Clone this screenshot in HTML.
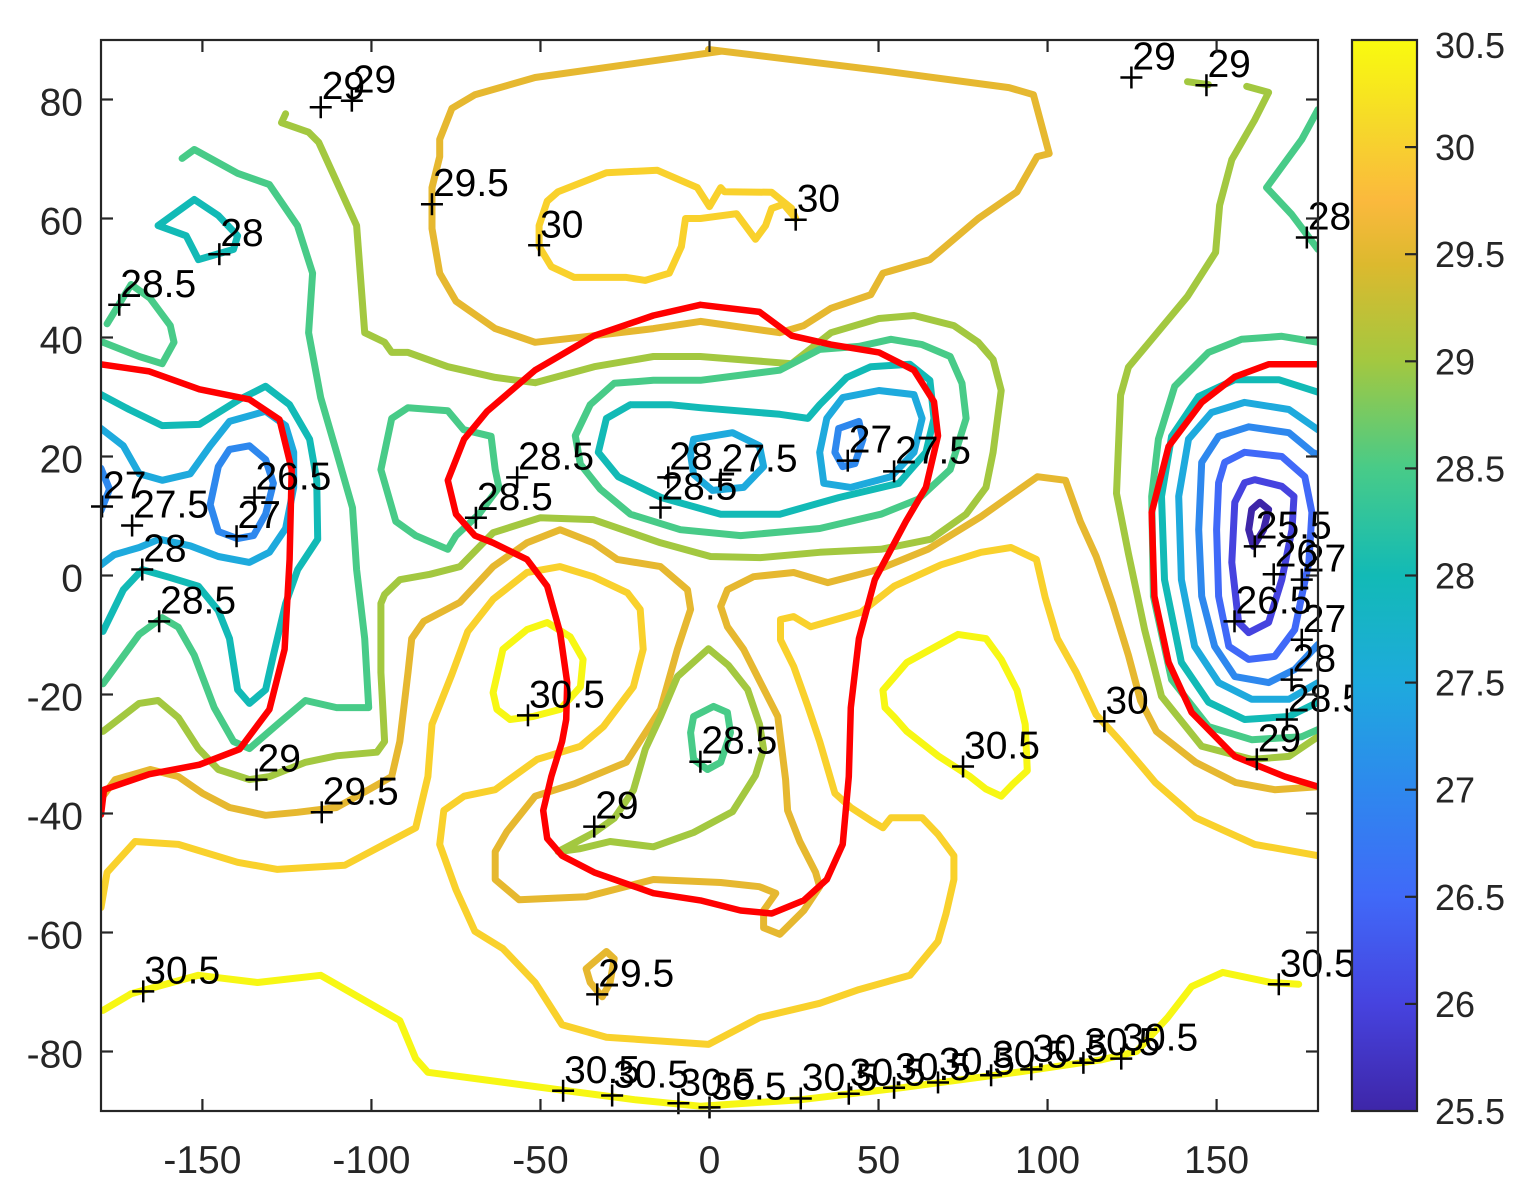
<!DOCTYPE html>
<html><head><meta charset="utf-8"><title>Contour map</title>
<style>
html,body{margin:0;padding:0;background:#fff;}
svg{display:block;font-family:"Liberation Sans",Arial,sans-serif;}
</style></head>
<body>
<svg id="chart" xmlns="http://www.w3.org/2000/svg" width="1521" height="1193" viewBox="0 0 1521 1193">
<defs>
<clipPath id="plotclip"><rect x="101" y="40" width="1217" height="1071"/></clipPath>
<linearGradient id="parula" x1="0" y1="1" x2="0" y2="0">
<stop offset="0" stop-color="#3e26a8"/><stop offset="0.1" stop-color="#4643df"/>
<stop offset="0.2" stop-color="#4069f8"/><stop offset="0.3" stop-color="#2e88ee"/>
<stop offset="0.4" stop-color="#1eaadd"/><stop offset="0.5" stop-color="#12bab6"/>
<stop offset="0.6" stop-color="#48cb88"/><stop offset="0.7" stop-color="#a3c840"/>
<stop offset="0.79" stop-color="#dcb92e"/><stop offset="0.85" stop-color="#fbb93d"/>
<stop offset="0.92" stop-color="#f6d82a"/><stop offset="1" stop-color="#f9fb0e"/>
</linearGradient>
</defs>
<rect x="0" y="0" width="1521" height="1193" fill="#fff"/>
<g id="contours" clip-path="url(#plotclip)"></g>
<g id="redline" clip-path="url(#plotclip)"></g>
<g id="labels"></g>
<g id="axes"></g>
<g id="cbar"></g>
</svg>
<script>
// ---- data ----
const xTicks = [-150,-100,-50,0,50,100,150];
const yTicks = [-80,-60,-40,-20,0,20,40,60,80];
const cbarTicks = [25.5,26,26.5,27,27.5,28,28.5,29,29.5,30,30.5];
const levelValues = [25.5,26,26.5,27,27.5,28,28.5,29,29.5,30,30.5];
const levelColors = ["#3e26a8","#4643df","#4069f8","#2e88ee","#1eaadd","#12bab6","#48cb88","#a3c840","#e6b830","#f9d12c","#f7f714"];

const c295Top = [[3.3,88.1],[-51.6,83.7],[-69.4,80.8],[-76.2,78.5],[-79.8,73.3],[-79.8,70.4],[-82.1,65.2],[-82.1,58.3],[-79.8,50.8],[-75.0,46.1],[-63.4,41.5],[-51.6,39.2],[-34.1,40.3],[-16.6,41.5],[-2.7,42.7],[20.8,40.8],[27.9,42.0],[35.9,44.9],[47.7,47.2],[51.3,50.8],[65.2,53.1],[79.5,60.0],[91.0,64.5],[96.9,70.4],[100.5,70.9],[95.8,80.8],[88.6,82.0],[50.1,84.9],[-0.3,88.4],[3.3,88.1]];
const c30Top = [[-48.0,62.9],[-44.8,64.5],[-30.5,67.7],[-15.4,68.1],[-3.6,65.2],[0,62.0],[3.3,65.2],[4.4,64.5],[18.4,64.4],[24.3,61.7],[25.5,60.0],[21.9,62.4],[18.4,61.7],[16.6,58.8],[13.6,56.5],[8.0,60.8],[-2.7,60.0],[-7.1,60.0],[-8.3,55.3],[-11.9,50.8],[-19.0,49.6],[-24.6,50.1],[-40.0,50.1],[-46.8,51.9],[-50.4,55.3],[-50.4,58.8],[-48.0,62.9]];
const c29Main = [[-125.4,77.6],[-126.6,76.1],[-118.6,74.5],[-115.6,72.8],[-104.4,58.8],[-102.0,40.8],[-96.1,39.2],[-94.0,37.5],[-89.2,37.5],[-77.4,35.1],[-63.4,33.3],[-51.6,32.4],[-34.1,35.1],[-16.6,36.8],[-2.7,36.8],[24.3,35.6],[35.9,40.8],[50.1,43.2],[60.5,43.7],[72.3,42.0],[79.5,39.2],[83.9,36.3],[86.3,31.1],[83.9,20.7],[81.8,14.8],[75.9,10.3],[65.5,6.1],[50.7,4.4],[32.6,3.9],[15.1,3.0],[0.3,3.2],[-14.5,5.5],[-34.4,9.4],[-50.1,9.7],[-64.0,7.2],[-73.8,1.5],[-82.7,0.2],[-91.6,-0.7],[-96.1,-3.2],[-97.2,-4.7],[-97.2,-16.3],[-96.1,-27.9],[-98.4,-29.7],[-110.3,-30.3],[-119.5,-31.4],[-130.2,-33.8],[-136.1,-34.3],[-145.3,-32.6],[-151.2,-29.1],[-157.1,-23.9],[-163.1,-21.0],[-168.7,-21.5],[-179.4,-26.2]];
const c285Central = [[-35.3,28.7],[-28.2,32.3],[-16.6,32.8],[-2.7,32.8],[20.8,34.5],[32.6,38.0],[44.2,38.5],[53.7,39.7],[62.9,38.8],[71.2,36.8],[74.7,32.3],[75.9,26.4],[71.2,17.8],[61.7,12.8],[50.7,10.3],[32.6,7.9],[9.2,6.7],[-8.6,7.7],[-23.4,10.3],[-32.3,14.5],[-38.2,18.7],[-39.7,23.5],[-35.3,28.7]];
const c28Central = [[-23.4,28.7],[-11.6,28.7],[-2.7,28.2],[20.8,27.1],[29.1,26.4],[32.6,28.7],[40.6,33.3],[47.7,35.1],[59.3,35.5],[65.2,32.8],[66.4,26.4],[64.0,20.7],[56.0,15.5],[38.2,13.1],[20.8,10.3],[3.3,10.3],[-14.2,13.1],[-27.0,16.6],[-32.9,20.7],[-30.5,26.4],[-23.4,28.7]];
const c275RightLobe = [[34.7,26.4],[39.4,29.9],[50.1,31.1],[60.5,30.4],[62.9,26.4],[60.5,20.7],[53.7,16.6],[41.8,14.8],[33.8,15.5],[32.6,20.7],[34.7,26.4]];
const c27RightLobe = [[38.2,24.7],[44.2,25.9],[45.4,22.9],[43.0,18.8],[39.4,18.3],[37.1,20.7],[38.2,24.7]];
const c275LeftLobe = [[-4.7,22.9],[6.8,24.0],[14.8,21.8],[16.0,18.3],[10.1,14.8],[0.9,14.3],[-4.7,17.0],[-5.6,20.3],[-4.7,22.9]];
const c27West = [[-142.0,21.2],[-136.1,21.8],[-131.3,19.5],[-129.0,15.5],[-131.3,10.3],[-134.9,6.7],[-139.6,6.2],[-145.3,7.4],[-147.7,11.9],[-145.3,18.3],[-142.0,21.2]];
const c27Edge = [[-180,18.0],[-177.5,14.5],[-180,10.9]];
const c275West = [[-180,24.7],[-173.4,21.8],[-168.7,17.1],[-161.9,16.0],[-153.6,17.1],[-147.7,21.8],[-142.0,25.9],[-131.3,27.6],[-125.4,25.2],[-123.0,20.7],[-123.0,14.8],[-125.4,7.9],[-130.2,3.9],[-136.1,2.2],[-145.3,3.2],[-153.6,5.0],[-162.8,6.1],[-168.7,4.7],[-176.1,3.5],[-180,1.8]];
const c28West = [[-180,30.4],[-171.7,27.9],[-161.9,25.2],[-150.9,25.4],[-139.0,29.6],[-131.3,31.8],[-124.2,28.7],[-118.3,22.9],[-116.2,16.1],[-115.9,6.1],[-121.8,1.0],[-125.4,-4.7],[-129.0,-13.4],[-131.3,-19.2],[-136.1,-21.5],[-139.6,-19.2],[-142.0,-10.6],[-145.3,-5.9],[-151.2,-1.8],[-159.8,-0.3],[-167.8,1.0],[-173.4,-2.4],[-179.4,-9.4]];
const c285West = [[-156.0,70.1],[-152.4,71.6],[-139.6,67.6],[-130.2,65.7],[-121.9,58.8],[-117.4,50.8],[-118.6,40.8],[-115.0,29.9],[-110.3,20.7],[-105.6,11.4],[-104.4,1.0],[-103.2,-4.7],[-102.0,-10.6],[-100.8,-22.2],[-110.3,-22.2],[-119.5,-21.0],[-127.8,-25.0],[-136.1,-29.1],[-140.8,-27.9],[-146.5,-22.2],[-152.4,-13.4],[-157.1,-8.7],[-161.9,-7.1],[-168.7,-9.9],[-179.4,-18.2]];
const c285NW = [[-178.2,42.3],[-171.1,48.9],[-165.5,46.6],[-159.5,42.0],[-158.4,39.2],[-161.9,35.6],[-168.7,36.8],[-179.4,39.2]];
const c28NW = [[-163.1,58.8],[-152.4,63.2],[-145.3,60.5],[-139.6,57.1],[-140.8,54.8],[-151.2,53.1],[-154.8,57.1],[-163.1,58.8]];
const c285Blob = [[-89.2,28.2],[-77.4,27.7],[-72.7,24.5],[-64.6,23.4],[-63.4,17.8],[-62.3,14.8],[-68.2,10.3],[-75.0,6.7],[-77.4,4.4],[-86.9,6.7],[-92.8,9.1],[-97.2,17.8],[-94.0,26.4],[-89.2,28.2]];
const r255 = [[162.8,12.3],[165.4,11.1],[163.9,7.7],[160.9,4.9],[159.5,7.7],[160.4,11.1],[162.8,12.3]];
const r26 = [[161.3,16.1],[169.3,15.0],[172.9,13.3],[172.3,7.7],[169.3,-0.7],[165.4,-7.9],[159.5,-9.6],[156.5,-7.9],[154.5,2.2],[155.4,12.3],[158.3,15.6],[161.3,16.1]];
const r265 = [[152.4,19.0],[158.3,20.7],[169.3,20.0],[176.1,16.6],[178.2,10.6],[177.3,2.2],[173.1,-9.1],[167.2,-13.6],[159.5,-14.1],[153.6,-11.9],[150.6,-3.5],[150.0,7.7],[150.6,15.6],[152.4,19.0]];
const r27 = [[180,20.3],[178.4,20.7],[171.4,24.0],[159.5,25.0],[150.6,23.4],[145.6,19.0],[144.7,7.7],[145.6,-3.5],[149.4,-11.9],[155.4,-17.0],[165.4,-18.0],[173.1,-15.8],[180,-11.6]];
const r275 = [[180,24.5],[171.4,27.9],[158.3,29.1],[148.5,27.4],[141.7,22.9],[138.8,13.3],[139.6,-0.7],[143.5,-11.9],[150.6,-18.0],[160.4,-20.8],[171.4,-20.8],[180,-18.0]];
const r28 = [[180,30.8],[168.4,32.9],[155.4,32.9],[144.7,30.1],[136.7,23.4],[133.7,13.3],[134.6,-0.7],[139.6,-14.6],[147.6,-21.3],[158.3,-24.2],[171.4,-23.7],[180,-21.3]];
const r285 = [[180,39.2],[169.3,40.2],[157.4,39.7],[147.6,37.5],[137.6,31.8],[132.8,22.9],[130.8,13.3],[131.3,-3.5],[136.7,-17.5],[147.6,-25.4],[160.4,-27.6],[175.2,-27.1],[180,-25.9]];
const r29 = [[158.9,82.2],[165.4,81.2],[161.3,76.6],[154.5,69.9],[150.9,62.2],[149.7,54.3],[141.4,46.9],[123.9,35.0],[121.6,30.3],[120.4,13.8],[123.9,3.7],[128.7,-9.1],[133.7,-20.3],[145.6,-28.7],[160.4,-30.9],[171.4,-30.4],[180,-27.1]];
const r285NE = [[180,78.3],[175.2,73.3],[164.8,65.2],[172.2,60.7],[180,54.8]];
const r29Small = [[141.4,83.0],[147.6,82.5]];
const g295Long = [[-179.4,-37.1],[-175.8,-34.3],[-165.4,-32.6],[-157.1,-33.8],[-150.0,-36.6],[-142.0,-39.0],[-131.3,-40.3],[-121.9,-39.8],[-110.3,-39.0],[-100.8,-36.0],[-94.0,-33.8],[-91.6,-27.9],[-89.2,-16.3],[-88.1,-10.6],[-84.5,-7.7],[-73.8,-4.5],[-64.0,1.5],[-54.0,5.5],[-44.2,7.7],[-34.4,5.5],[-27.3,2.7],[-14.5,1.5],[-6.5,-2.4],[-5.6,-5.7],[-9.5,-12.4],[-14.5,-22.5],[-24.6,-31.4],[-40.0,-35.0],[-51.6,-37.1],[-59.9,-43.0],[-63.4,-46.4],[-63.4,-51.1],[-56.3,-54.5],[-36.5,-54.0],[-16.6,-51.1],[3.3,-51.6],[14.8,-52.3],[19.6,-53.4],[16.0,-56.3],[16.0,-59.2],[20.8,-60.3],[27.9,-56.3],[32.6,-52.3],[31.4,-49.9],[26.7,-44.7],[23.1,-39.5],[22.5,-34.3],[20.2,-23.7],[15.1,-18.0],[10.1,-12.4],[5.3,-8.6],[3.3,-5.2],[5.3,-2.4],[13.0,-0.2],[24.9,0.5],[35.0,-1.2],[49.8,1.0],[64.6,4.4],[80.3,9.9],[97.0,16.6],[105.3,16.0],[109.7,9.1],[114.4,3.2],[119.2,-4.7],[123.9,-13.4],[127.5,-21.0],[132.2,-26.2],[143.8,-31.4],[155.7,-34.8],[167.2,-36.0],[180,-35.5]];
const g295Small = [[-36.5,-66.1],[-30.5,-63.2],[-28.2,-64.4],[-29.4,-68.4],[-31.7,-70.8],[-35.3,-68.4],[-36.5,-66.1]];
const y30Long = [[-180,-55.8],[-178.2,-49.9],[-169.9,-44.7],[-157.1,-45.2],[-139.6,-48.2],[-127.8,-49.4],[-107.9,-48.7],[-86.9,-42.4],[-83.3,-33.8],[-82.1,-25.0],[-76.2,-16.6],[-71.5,-9.4],[-64.0,-4.0],[-54.0,0.5],[-44.2,1.5],[-34.4,-0.2],[-24.3,-2.9],[-20.5,-5.7],[-19.6,-12.4],[-22.5,-18.7],[-31.4,-25.4],[-38.2,-28.7],[-51.0,-30.9],[-63.4,-36.0],[-72.6,-37.1],[-78.6,-39.5],[-79.8,-45.2],[-75.0,-52.8],[-69.4,-59.8],[-61.1,-62.7],[-51.6,-68.4],[-43.6,-75.5],[-30.5,-77.6],[-0.3,-78.8],[14.8,-74.3],[32.6,-71.9],[44.2,-69.6],[59.3,-67.2],[67.6,-61.5],[70.0,-56.8],[72.3,-51.1],[72.3,-47.1],[67.6,-43.5],[62.9,-40.7],[53.7,-40.7],[51.3,-42.4],[47.7,-41.2],[41.8,-39.0],[37.1,-36.6],[32.6,-27.9],[29.1,-22.0],[24.9,-15.3],[21.0,-10.8],[21.0,-7.4],[24.9,-6.9],[29.9,-8.6],[44.8,-6.2],[54.6,-1.8],[68.5,1.8],[80.3,3.9],[89.2,4.7],[96.7,2.7],[99.3,-3.7],[102.9,-10.6],[108.5,-16.3],[114.4,-23.4],[121.6,-27.9],[131.9,-34.8],[143.8,-40.7],[161.3,-45.2],[180,-47.1]];
const y305West = [[-64.0,-19.7],[-61.1,-12.4],[-54.0,-9.1],[-48.0,-7.9],[-41.2,-10.3],[-37.4,-14.1],[-38.2,-18.7],[-44.2,-22.5],[-52.2,-23.7],[-59.0,-24.2],[-62.9,-22.5],[-64.0,-19.7]];
const y305East = [[51.9,-22.2],[51.3,-19.3],[58.4,-14.6],[73.5,-9.9],[81.8,-10.6],[86.3,-14.1],[91.0,-19.3],[93.4,-25.0],[94.0,-32.8],[89.8,-35.0],[86.3,-37.1],[81.8,-35.9],[77.1,-33.8],[67.6,-30.3],[58.4,-26.2],[54.8,-23.9],[51.9,-22.2]];
const y305South = [[-179.4,-73.1],[-171.1,-70.3],[-151.2,-67.2],[-133.7,-68.4],[-115.0,-67.2],[-91.6,-74.8],[-86.9,-81.2],[-83.3,-83.5],[-44.8,-86.4],[-22.2,-88.1],[-2.7,-89.2],[27.0,-88.1],[56.6,-86.1],[92.2,-83.4],[115.9,-81.4],[126.3,-80.0],[135.5,-74.3],[142.6,-69.1],[151.8,-66.7],[166.0,-68.4],[174.3,-68.7]];
const c29South = [[-0.3,-12.3],[5.6,-15.1],[11.3,-19.2],[14.8,-25.0],[16.0,-29.2],[13.6,-33.6],[6.8,-39.7],[-4.7,-43.2],[-16.6,-45.6],[-29.4,-44.7],[-38.2,-45.9],[-44.8,-46.4],[-34.1,-43.2],[-28.2,-40.8],[-22.5,-36.1],[-19.0,-29.2],[-14.5,-23.7],[-9.5,-17.0],[-0.3,-12.3]];
const c285South = [[-4.7,-23.7],[1.2,-22.0],[5.3,-23.0],[6.2,-26.4],[3.3,-31.4],[-0.6,-32.6],[-4.7,-30.9],[-5.6,-26.4],[-4.7,-23.7]];

const redCentral = [[-2.7,45.5],[-16.6,43.7],[-34.1,40.3],[-51.6,34.5],[-65.8,27.6],[-72.6,22.9],[-77.4,16.0],[-75.0,10.3],[-69.4,6.7],[-64.0,5.5],[-54.0,2.7],[-48.0,-1.8],[-44.2,-9.6],[-42.1,-18.0],[-42.4,-24.2],[-43.6,-27.9],[-46.8,-33.8],[-49.2,-39.5],[-48.0,-44.2],[-43.6,-47.1],[-34.1,-49.9],[-16.6,-53.4],[-2.7,-54.6],[9.2,-56.3],[18.4,-56.8],[27.9,-54.6],[34.7,-51.1],[39.4,-45.2],[41.2,-33.8],[41.8,-22.2],[44.2,-10.6],[48.9,-0.7],[58.1,9.1],[64.0,14.8],[67.6,23.5],[66.4,29.2],[60.5,34.5],[50.1,37.5],[35.9,38.8],[24.3,40.3],[14.8,44.3],[-2.7,45.5]];
const redWest = [[-180,35.5],[-165.7,34.3],[-150.9,31.3],[-136.1,29.6],[-127.2,26.2],[-123.6,17.8],[-124.2,2.7],[-125.7,-12.4],[-130.2,-22.5],[-139.0,-29.2],[-150.9,-31.8],[-165.7,-33.4],[-179.1,-36.0],[-180,-40.2]];
const redEast = [[180,35.5],[165.4,35.5],[155.4,33.4],[145.6,29.1],[135.8,21.7],[130.8,10.6],[131.6,-3.5],[135.8,-14.6],[142.6,-23.0],[155.4,-30.4],[170.2,-33.8],[180,-35.5]];

const contourSet = [
 {level:29.5, pts:c295Top, name:'contour-29-5-north'},
 {level:30, pts:c30Top, name:'contour-30-north'},
 {level:29, pts:c29Main, name:'contour-29-main'},
 {level:28.5, pts:c285Central, name:'contour-28-5-central'},
 {level:28, pts:c28Central, name:'contour-28-central'},
 {level:27.5, pts:c275RightLobe, name:'contour-27-5-central-east'},
 {level:27, pts:c27RightLobe, name:'contour-27-central'},
 {level:27.5, pts:c275LeftLobe, name:'contour-27-5-central-west'},
 {level:27, pts:c27West, name:'contour-27-west'},
 {level:27, pts:c27Edge, name:'contour-27-edge'},
 {level:27.5, pts:c275West, name:'contour-27-5-west'},
 {level:28, pts:c28West, name:'contour-28-west'},
 {level:28.5, pts:c285West, name:'contour-28-5-west'},
 {level:28.5, pts:c285NW, name:'contour-28-5-northwest'},
 {level:28, pts:c28NW, name:'contour-28-northwest'},
 {level:28.5, pts:c285Blob, name:'contour-28-5-blob'},
 {level:29, pts:r29, name:'contour-29-east'},
 {level:28.5, pts:r285, name:'contour-28-5-east'},
 {level:28, pts:r28, name:'contour-28-east'},
 {level:27.5, pts:r275, name:'contour-27-5-east'},
 {level:27, pts:r27, name:'contour-27-east'},
 {level:26.5, pts:r265, name:'contour-26-5-east'},
 {level:26, pts:r26, name:'contour-26-east'},
 {level:25.5, pts:r255, name:'contour-25-5-east'},
 {level:28.5, pts:r285NE, name:'contour-28-5-northeast'},
 {level:29, pts:r29Small, name:'contour-29-fragment'},
 {level:29.5, pts:g295Long, name:'contour-29-5-south'},
 {level:29.5, pts:g295Small, name:'contour-29-5-small'},
 {level:30, pts:y30Long, name:'contour-30-south'},
 {level:30.5, pts:y305West, name:'contour-30-5-west'},
 {level:30.5, pts:y305East, name:'contour-30-5-east'},
 {level:30.5, pts:y305South, name:'contour-30-5-south'},
 {level:29, pts:c29South, name:'contour-29-south'},
 {level:28.5, pts:c285South, name:'contour-28-5-south'}
];
const redSet = [redCentral, redWest, redEast];

const labelLon = [-115.0,-105.8,-82.1,-50.4,25.5,-145.0,-174.6,124.8,147.0,176.7,-179.7,-170.8,-167.8,-162.8,-139.9,-134.6,-69.1,-56.9,-14.5,-12.2,3.3,40.9,54.6,161.3,166.9,175.2,155.3,175.2,172.2,170.8,161.9,-53.7,-2.7,75.0,116.8,-134.0,-114.7,-34.1,-33.2,-167.5,168.4,-43.3,-28.8,-9.2,0,27.0,41.2,54.6,67.6,83.3,95.2,110.6,121.8];
const labelLat = [78.7,79.8,62.4,55.5,59.8,54.0,45.5,83.7,82.4,56.8,11.6,8.4,1.0,-7.7,6.6,13.1,9.7,16.5,11.4,16.5,16.1,19.3,17.5,4.9,0.2,-0.7,-7.7,-10.8,-17.5,-24.2,-30.9,-23.5,-31.3,-32.1,-24.5,-34.3,-39.8,-42.2,-70.4,-69.9,-68.7,-86.6,-87.4,-88.7,-89.4,-87.9,-87.1,-86.1,-85.2,-84.0,-83.0,-81.9,-81.2];
const labelText = ["29","29","29.5","30","30","28","28.5","29","29","28","27","27.5","28","28.5","27","26.5","28.5","28.5","28.5","28","27.5","27","27.5","25.5","26","27","26.5","27","28","28.5","29","30.5","28.5","30.5","30","29","29.5","29","29.5","30.5","30.5","30.5","30.5","30.5","30.5","30.5","30.5","30.5","30.5","30.5","30.5","30.5","30.5"];

// ---- scales ----
const X0=101, X1=1318, Y0=40, Y1=1111;
const xs = lon => X0 + (lon + 180) / 360 * (X1 - X0);
const ys = lat => Y0 + (90 - lat) / 180 * (Y1 - Y0);
const CB_X0=1352, CB_X1=1417, CB_Y0=40, CB_Y1=1111, CB_MIN=25.5, CB_MAX=30.5;
const cbY = v => CB_Y0 + (CB_MAX - v) / (CB_MAX - CB_MIN) * (CB_Y1 - CB_Y0);
const NS = 'http://www.w3.org/2000/svg';
function mk(tag, attrs, parent){ const e=document.createElementNS(NS,tag); for(const k in attrs) e.setAttribute(k,attrs[k]); parent.appendChild(e); return e; }
function colorFor(level){ const i=levelValues.indexOf(level); return levelColors[i>=0?i:0]; }
const ptsStr = pts => pts.map(p => xs(p[0]).toFixed(1)+','+ys(p[1]).toFixed(1)).join(' ');

// ---- contours ----
const gC = document.getElementById('contours');
contourSet.forEach(c => {
  const pl = mk('polyline', {points: ptsStr(c.pts), fill:'none', stroke: colorFor(c.level), 'stroke-width':7, 'stroke-linejoin':'round', 'stroke-linecap':'round'}, gC);
  
  
});
const gR = document.getElementById('redline');
redSet.forEach(r => {
  const pl = mk('polyline', {points: ptsStr(r), fill:'none', stroke:'#ff0000', 'stroke-width':6.5, 'stroke-linejoin':'round', 'stroke-linecap':'round'}, gR);
  
  
});

// ---- labels ----
const gL = document.getElementById('labels');
labelText.forEach((t,i) => {
  const cx = xs(labelLon[i]), cy = ys(labelLat[i]);
  const g = mk('g', {}, gL);
  
  
  mk('line', {x1:cx-11, y1:cy, x2:cx+11, y2:cy, stroke:'#000', 'stroke-width':2.5}, g);
  mk('line', {x1:cx, y1:cy-11, x2:cx, y2:cy+11, stroke:'#000', 'stroke-width':2.5}, g);
  const tx = mk('text', {x:cx+1, y:cy-8, 'font-size':39, fill:'#000'}, g);
  tx.textContent = t;
});

// ---- axes ----
const gA = document.getElementById('axes');
const box = mk('rect', {x:X0, y:Y0, width:X1-X0, height:Y1-Y0, fill:'none', stroke:'#262626', 'stroke-width':2.2}, gA);


xTicks.forEach(v => {
  const x = xs(v);
  mk('line', {x1:x, y1:Y1, x2:x, y2:Y1-12, stroke:'#262626', 'stroke-width':2.2}, gA);
  mk('line', {x1:x, y1:Y0, x2:x, y2:Y0+12, stroke:'#262626', 'stroke-width':2.2}, gA);
  const t = mk('text', {x:x, y:1173, 'font-size':39, 'text-anchor':'middle', fill:'#262626'}, gA);
  
  
  t.textContent = v;
});
yTicks.forEach(v => {
  const y = ys(v);
  mk('line', {x1:X0, y1:y, x2:X0+12, y2:y, stroke:'#262626', 'stroke-width':2.2}, gA);
  mk('line', {x1:X1, y1:y, x2:X1-12, y2:y, stroke:'#262626', 'stroke-width':2.2}, gA);
  const t = mk('text', {x:83, y:y+16, 'font-size':39, 'text-anchor':'end', fill:'#262626'}, gA);
  
  
  t.textContent = v;
});

// ---- colorbar ----
const gB = document.getElementById('cbar');
const bar = mk('rect', {x:CB_X0, y:CB_Y0, width:CB_X1-CB_X0, height:CB_Y1-CB_Y0, fill:'url(#parula)', stroke:'#262626', 'stroke-width':2.2}, gB);


cbarTicks.forEach(v => {
  const y = cbY(v);
  if (v > CB_MIN && v < CB_MAX) mk('line', {x1:CB_X1-12, y1:y, x2:CB_X1, y2:y, stroke:'#262626', 'stroke-width':2.2}, gB);
  let ty = y + 13;
  if (v === CB_MAX) ty = y + 18;
  const t = mk('text', {x:1435, y:ty, 'font-size':36, fill:'#262626'}, gB);
  
  
  t.textContent = v;
});
</script>
</body></html>
